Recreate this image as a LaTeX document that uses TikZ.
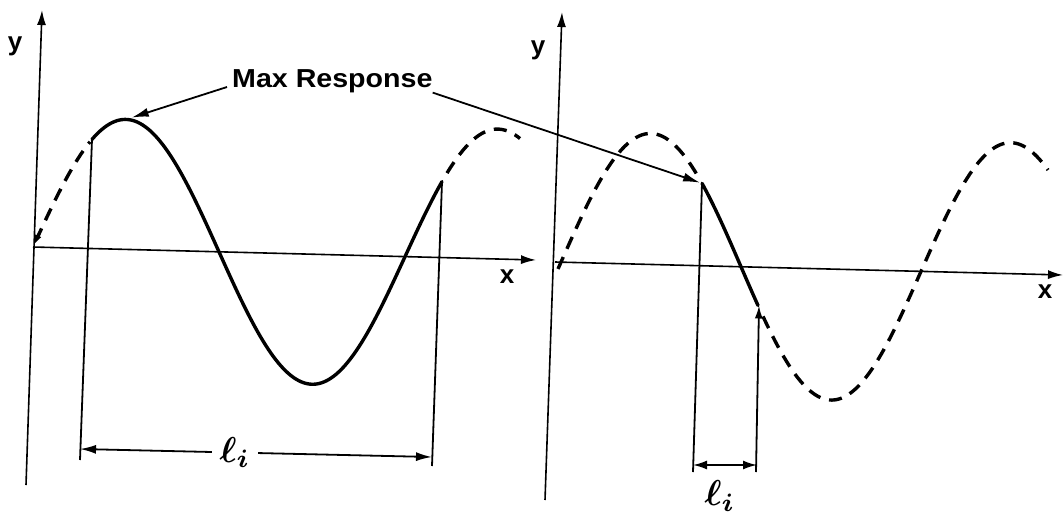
\documentclass[tikz,border=0pt]{standalone}
\usepackage{fontspec}
\setsansfont{Liberation Sans}
\usetikzlibrary{arrows.meta,calc}
\begin{document}
\begin{tikzpicture}[x=1pt,y=-1pt,
  declare function={fl(\x)=247+0.026*(\x-33)-130*sin(0.967742*(\x-33));
                    fr(\x)=262+0.0256*(\x-555)-131*sin(\x-561);},
  axis/.style={line width=1.6pt,-{Latex[length=15pt,width=9pt]}},
  vline/.style={line width=1.8pt},
  curve/.style={line width=3.4pt,line cap=round,line join=round},
  dashcurve/.style={line width=3.4pt,dash pattern=on 13pt off 9pt},
  ptr/.style={line width=1.8pt,-{Latex[length=17pt,width=9pt]}},
  dimline/.style={line width=1.8pt,{Latex[length=16pt,width=9pt]}-{Latex[length=16pt,width=9pt]}},
  lbl/.style={font=\sffamily\bfseries\fontsize{26}{30}\selectfont,inner sep=0pt},
  ell/.style={inner sep=0pt},
]
\useasboundingbox (0,0) rectangle (1064,514);

% ---------------- left plot ----------------
\coordinate (O1) at (33,247);
\coordinate (Y1b) at (26,485);
\coordinate (Y1t) at (42,10);
\coordinate (X1e) at (536,260);
\draw[axis] (Y1b) -- (Y1t);
\draw[axis] (O1) -- (X1e);
\node[lbl] (ylab1) at (15,46) {y};
\node[lbl] (xlab1) at (507,277) {x};

\coordinate (S1) at (92,{fl(92)});
\coordinate (E1) at (442,{fl(442)});
\coordinate (P1) at (126,{fl(126)});
\draw[dashcurve,{Latex[length=10pt,width=7pt]}-] plot[domain=34:90,samples=20] (\x,{fl(\x)});
\draw[curve] plot[domain=92:442,samples=140] (\x,{fl(\x)});
\draw[dashcurve] plot[domain=447:520,samples=30] (\x,{fl(\x)});

\coordinate (B1a) at (80,460);
\coordinate (B1b) at (432,466);
\draw[vline] (S1) -- (B1a);
\draw[vline] (E1) -- (B1b);
\coordinate (D1a) at (80,449);
\coordinate (D1b) at (432,457);
\draw[dimline] (D1a) -- (D1b) node[pos=0.44,fill=white,inner xsep=8pt,inner ysep=2pt] (L1) {\scalebox{3.6}{\boldmath$\ell_i$}};

% ---------------- right plot ----------------
\coordinate (O2) at (555,262);
\coordinate (Y2b) at (545,500);
\coordinate (Y2t) at (562,12);
\coordinate (X2e) at (1063,275);
\draw[axis] (Y2b) -- (Y2t);
\draw[axis] (O2) -- (X2e);
\node[lbl] (ylab2) at (538,50) {y};
\node[lbl] (xlab2) at (1045,292) {x};

\coordinate (S2) at (702,{fr(702)});
\coordinate (E2) at (758,{fr(758)});
\draw[dashcurve] plot[domain=558:700,samples=50] (\x,{fr(\x)});
\draw[curve] plot[domain=702:758,samples=30] (\x,{fr(\x)});
\draw[dashcurve] plot[domain=763:1048,samples=100] (\x,{fr(\x)});

\coordinate (B2a) at (693,472);
\coordinate (B2b) at (756,472);
\draw[vline] (S2) -- (B2a);
\draw[vline,-{Latex[length=13pt,width=8pt]}] (B2b) -- ([xshift=1pt]E2) ;
\coordinate (D2a) at (693,465);
\coordinate (D2b) at (757,465);
\draw[line width=1.8pt,{Latex[length=14pt,width=9pt]}-{Latex[length=14pt,width=9pt]}] (D2a) -- (D2b);
\node[ell] (L2) at (720,496) {\scalebox{3.6}{\boldmath$\ell_i$}};

% ---------------- label and pointers ----------------
\node[lbl,anchor=base west] (MR) at (232,87) {\scalebox{1.1}[1]{Max Response}};
\draw[ptr,shorten >=6pt] ([xshift=-5pt]MR.base west) -- (P1);
\draw[ptr,shorten >=2pt] (MR.south east) -- (S2);
\end{tikzpicture}
\end{document}
